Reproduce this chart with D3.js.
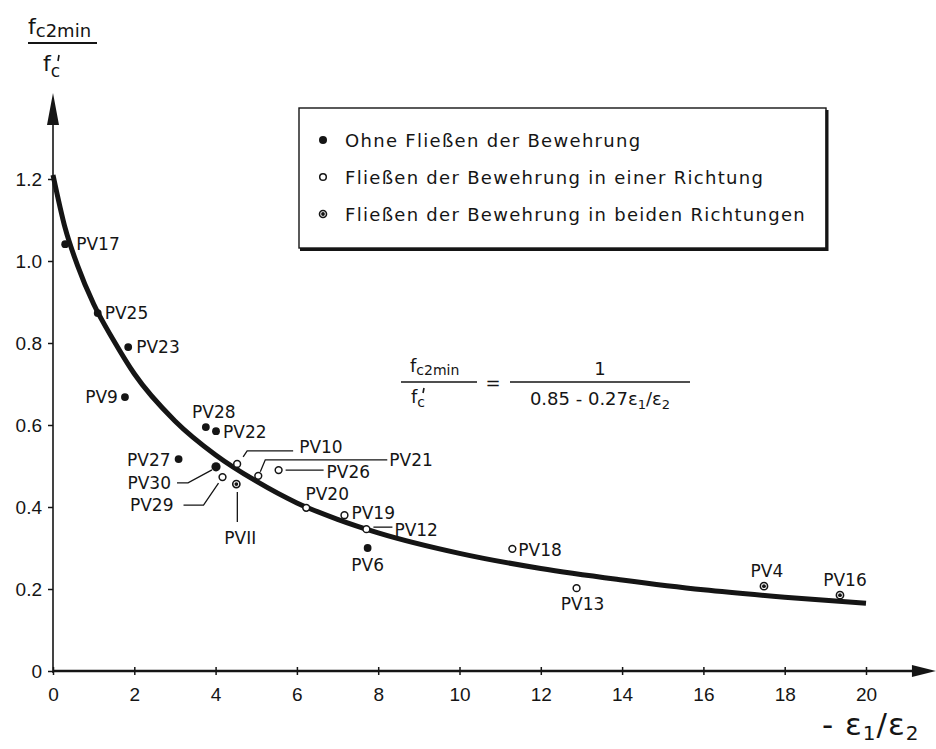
<!DOCTYPE html>
<html>
<head>
<meta charset="utf-8">
<script src="https://cdn.jsdelivr.net/npm/d3@7"></script>
<style>
  body { margin: 0; background: #fff; }
  svg { display: block; font-family: 'DejaVu Sans', sans-serif; }
</style>
</head>
<body>
<div id="vis"></div>
<script>
// test specimens
const specimens = ['PV17', 'PV25', 'PV23', 'PV9', 'PV28', 'PV22', 'PV27', 'PV30', 'PV29', 'PVII',
    'PV10', 'PV21', 'PV26', 'PV20', 'PV19', 'PV12', 'PV6', 'PV18', 'PV13', 'PV4', 'PV16'];
const strainRatio = [0.30, 1.10, 1.85, 1.77, 3.76, 4.01, 3.09, 4.01, 4.17, 4.51,
    4.53, 5.05, 5.55, 6.23, 7.17, 7.71, 7.74, 11.30, 12.88, 17.49, 19.36];
const strengthRatio = [1.041, 0.873, 0.790, 0.668, 0.595, 0.585, 0.517, 0.498, 0.473, 0.456,
    0.505, 0.476, 0.490, 0.398, 0.380, 0.346, 0.300, 0.298, 0.202, 0.207, 0.185];
const yielding = ['ohne', 'ohne', 'ohne', 'ohne', 'ohne', 'ohne', 'ohne', 'ohne', 'einer', 'beiden',
    'einer', 'einer', 'einer', 'einer', 'einer', 'einer', 'ohne', 'einer', 'einer', 'beiden', 'beiden'];

// drawn curve fc2min/f'c = 1 / (0.85 - 0.27 e1/e2)
const curveX = [0, 0.3, 0.6, 1, 1.5, 2, 3, 4, 5, 6, 7, 8, 10, 12, 14, 16, 18, 20];
const curveY = [1.21, 1.08, 0.99, 0.895, 0.805, 0.725, 0.61, 0.527, 0.463, 0.41, 0.37, 0.337,
    0.287, 0.25, 0.222, 0.198, 0.18, 0.165];

const xTicks = [0, 2, 4, 6, 8, 10, 12, 14, 16, 18, 20];
const yTicks = [0, 0.2, 0.4, 0.6, 0.8, 1.0, 1.2];

const legendKeys = ['ohne', 'einer', 'beiden'];
const legendLabels = [
    'Ohne Fließen der Bewehrung',
    'Fließen der Bewehrung in einer Richtung',
    'Fließen der Bewehrung in beiden Richtungen'
];

const width = 936;
const height = 749;
const ink = '#151515';

// label placement relative to the point (px)
const labelPos = {
    PV17: { dx: 11, dy: 0, a: 'start' },
    PV25: { dx: 7, dy: 0, a: 'start' },
    PV23: { dx: 8, dy: 0, a: 'start' },
    PV9:  { dx: -7, dy: 0, a: 'end' },
    PV28: { dx: 8, dy: -15, a: 'middle' },
    PV22: { dx: 7, dy: 1, a: 'start' },
    PV27: { dx: -8, dy: 1, a: 'end' },
    PV30: { dx: -45, dy: 16, a: 'end', lead: [[-39, 16], [-28, 16], [-4, 3]] },
    PV29: { dx: -49, dy: 28, a: 'end', lead: [[-39, 28], [-19, 28], [-4, 6]] },
    PVII: { dx: 4, dy: 54, a: 'middle', lead: [[1, 8], [1, 38]] },
    PV10: { dx: 62, dy: -17, a: 'start', lead: [[6, -7], [10, -13], [56, -13]] },
    PV21: { dx: 131, dy: -16, a: 'start', lead: [[2, -4], [7, -16], [129, -16]] },
    PV26: { dx: 48, dy: 2, a: 'start', lead: [[7, 0], [45, 0]] },
    PV20: { dx: 21, dy: -14, a: 'middle' },
    PV19: { dx: 7, dy: -2, a: 'start' },
    PV12: { dx: 28, dy: 1, a: 'start', lead: [[7, -2], [26, -2]] },
    PV6:  { dx: 0, dy: 17, a: 'middle' },
    PV18: { dx: 6, dy: 1, a: 'start' },
    PV13: { dx: 6, dy: 16, a: 'middle' },
    PV4:  { dx: 3, dy: -15, a: 'middle' },
    PV16: { dx: 5, dy: -15, a: 'middle' }
};

const svg = d3.select('#vis')
    .append('svg')
    .attr('width', width)
    .attr('height', height);

svg.append('rect').attr('width', width).attr('height', height).attr('fill', '#fff');

const x = d3.scaleLinear().domain([0, 20]).range([53, 866]);
const y = d3.scaleLinear().domain([0, 1.2]).range([671, 179]);

// axes
const xAxis = svg.append('g')
    .attr('transform', `translate(0,${y(0)})`)
    .call(d3.axisBottom(x).tickValues(xTicks).tickSize(4).tickPadding(13).tickFormat(d3.format('d')));
xAxis.select('.domain').remove();
xAxis.selectAll('line').attr('stroke', ink).attr('stroke-width', 1.5).attr('y1', -4);
xAxis.selectAll('text').attr('font-size', 19).attr('fill', ink);

const yAxis = svg.append('g')
    .attr('transform', `translate(${x(0)},0)`)
    .call(d3.axisLeft(y).tickValues(yTicks).tickSize(5).tickPadding(6)
        .tickFormat(d => d === 0 ? '0' : d.toFixed(1)));
yAxis.select('.domain').remove();
yAxis.selectAll('line').attr('stroke', ink).attr('stroke-width', 1.5);
yAxis.selectAll('text').attr('font-size', 19).attr('fill', ink);

// axis lines with arrows
const xEnd = x(21.72);
const yTop = y(1.41);
svg.append('line')
    .attr('x1', x(0)).attr('x2', xEnd - 18)
    .attr('y1', y(0)).attr('y2', y(0))
    .attr('stroke', ink).attr('stroke-width', 2.6);
svg.append('path')
    .attr('d', `M${xEnd},${y(0)} L${xEnd - 24},${y(0) - 6} L${xEnd - 24},${y(0) + 6} Z`)
    .attr('fill', ink);
svg.append('line')
    .attr('x1', x(0)).attr('x2', x(0))
    .attr('y1', y(0) + 2).attr('y2', yTop + 20)
    .attr('stroke', ink).attr('stroke-width', 1.6);
svg.append('path')
    .attr('d', `M${x(0)},${yTop} L${x(0) - 6},${yTop + 32} L${x(0) + 6},${yTop + 32} Z`)
    .attr('fill', ink);

// small prime stroke (drawn, so it does not collide with the subscript)
function prime(g, px, py, len) {
    g.append('line')
        .attr('x1', px + 1).attr('y1', py)
        .attr('x2', px).attr('y2', py + len)
        .attr('stroke', ink).attr('stroke-width', 1.6);
}

// y axis title: fc2min / f'c
const yt = svg.append('g').attr('fill', ink);
const ytn = yt.append('text').attr('x', 28).attr('y', 34).attr('font-size', 22);
ytn.append('tspan').text('f');
ytn.append('tspan').attr('font-size', 18).attr('dy', 3).text('c2min');
yt.append('line').attr('x1', 28).attr('x2', 97).attr('y1', 43).attr('y2', 43)
    .attr('stroke', ink).attr('stroke-width', 2);
const ytd = yt.append('text').attr('x', 43).attr('y', 71).attr('font-size', 22);
ytd.append('tspan').text('f');
ytd.append('tspan').attr('font-size', 17).attr('dy', 6).text('c');
prime(yt, 58, 55, 6);

// x axis title: - e1/e2
const xtl = svg.append('text').attr('x', 822).attr('y', 735).attr('fill', ink)
    .attr('font-size', 31).attr('letter-spacing', 1);
xtl.append('tspan').text('- \u03B5');
xtl.append('tspan').attr('font-size', 20).attr('dy', 5).text('1');
xtl.append('tspan').attr('dy', -5).text('/\u03B5');
xtl.append('tspan').attr('font-size', 20).attr('dy', 5).text('2');

// legend
const lg = svg.append('g');
lg.append('rect')
    .attr('x', 299).attr('y', 108).attr('width', 527).attr('height', 140)
    .attr('fill', '#fff').attr('stroke', ink).attr('stroke-width', 1.4);
lg.append('path')
    .attr('d', 'M827,110 L827,249.5 L300,249.5')
    .attr('fill', 'none').attr('stroke', ink).attr('stroke-width', 3);

// markers
function marker(sel, kind, r) {
    if (kind === 'ohne') {
        sel.append('circle').attr('r', r).attr('fill', ink);
    } else if (kind === 'einer') {
        sel.append('circle').attr('r', r - 0.5).attr('fill', '#fff')
            .attr('stroke', ink).attr('stroke-width', 1.5);
    } else {
        sel.append('circle').attr('r', r - 0.3).attr('fill', '#fff')
            .attr('stroke', ink).attr('stroke-width', 1.6);
        sel.append('circle').attr('r', 1.9).attr('fill', ink);
    }
}

legendKeys.forEach((k, i) => {
    const row = lg.append('g').attr('transform', `translate(0,${141 + i * 37})`);
    const m = row.append('g').attr('transform', 'translate(323,-1)');
    marker(m, k, k === 'ohne' ? 4 : 3.8);
    row.append('text')
        .attr('x', 345).attr('y', 6)
        .attr('font-size', 18).attr('fill', ink)
        .attr('letter-spacing', 1.3)
        .text(legendLabels[i]);
});

// formula
const fm = svg.append('g').attr('fill', ink);
const fn = fm.append('text').attr('x', 410).attr('y', 372).attr('font-size', 18);
fn.append('tspan').text('f');
fn.append('tspan').attr('font-size', 14).attr('dy', 3).text('c2min');
fm.append('line').attr('x1', 401).attr('x2', 477).attr('y1', 382).attr('y2', 382)
    .attr('stroke', ink).attr('stroke-width', 1.6);
const fd = fm.append('text').attr('x', 411).attr('y', 403).attr('font-size', 18);
fd.append('tspan').text('f');
fd.append('tspan').attr('font-size', 14).attr('dy', 4).text('c');
prime(fm, 423, 388, 5);
fm.append('text').attr('x', 493).attr('y', 389).attr('font-size', 18)
    .attr('text-anchor', 'middle').text('=');
fm.append('text').attr('x', 600).attr('y', 375).attr('font-size', 18)
    .attr('text-anchor', 'middle').text('1');
fm.append('line').attr('x1', 510).attr('x2', 690).attr('y1', 382).attr('y2', 382)
    .attr('stroke', ink).attr('stroke-width', 1.6);
const fr = fm.append('text').attr('x', 600).attr('y', 405).attr('font-size', 18)
    .attr('text-anchor', 'middle');
fr.append('tspan').text('0.85 - 0.27\u03B5');
fr.append('tspan').attr('font-size', 13).attr('dy', 4).text('1');
fr.append('tspan').attr('dy', -4).text('/\u03B5');
fr.append('tspan').attr('font-size', 13).attr('dy', 4).text('2');

// curve
const line = d3.line()
    .x((d, i) => x(curveX[i]))
    .y(d => y(d))
    .curve(d3.curveMonotoneX);
svg.append('path')
    .datum(curveY)
    .attr('d', line)
    .attr('fill', 'none')
    .attr('stroke', ink)
    .attr('stroke-width', 5);

// specimens
const pts = svg.append('g');
specimens.forEach((id, i) => {
    const px = x(strainRatio[i]);
    const py = y(strengthRatio[i]);
    const lp = labelPos[id];
    if (lp.lead) {
        pts.append('polyline')
            .attr('points', lp.lead.map(p => [px + p[0], py + p[1]].join(',')).join(' '))
            .attr('fill', 'none').attr('stroke', ink).attr('stroke-width', 1.3);
    }
    const g = pts.append('g').attr('transform', `translate(${px},${py})`);
    marker(g, yielding[i], id === 'PV30' ? 4.6 : 3.9);
    pts.append('text')
        .attr('x', px + lp.dx)
        .attr('y', py + lp.dy)
        .attr('dy', '0.36em')
        .attr('text-anchor', lp.a)
        .attr('font-size', 17)
        .attr('fill', ink)
        .text(id);
});
</script>
</body>
</html>
